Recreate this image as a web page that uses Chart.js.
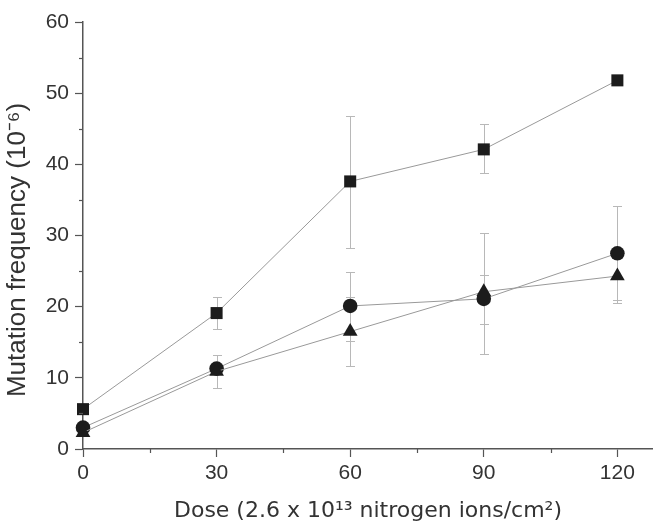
<!DOCTYPE html>
<html>
<head>
<meta charset="utf-8">
<script src="https://cdn.jsdelivr.net/npm/chart.js@4.4.0/dist/chart.umd.min.js"></script>
<style>
  html, body { margin: 0; padding: 0; background: #fff; }
  #wrap { width: 653px; height: 524px; position: relative; }
</style>
</head>
<body>
<div id="wrap"><canvas id="c" width="653" height="524"></canvas></div>
<script>
// ---- data ----
const doses = [0, 30, 60, 90, 120];

const squareMean = [5.6, 19.1, 37.6, 42.1, 51.8];
const squareLow  = [null, 16.8, 28.3, 38.8, null];
const squareHigh = [null, 21.4, 46.8, 45.7, null];

const circleMean = [3.0, 11.3, 20.1, 21.1, 27.5];
const circleLow  = [null, null, 15.2, 13.3, 20.9];
const circleHigh = [null, 13.2, 24.9, 30.4, 34.2];

const triangleMean = [2.3, 10.9, 16.5, 22.1, 24.3];
const triangleLow  = [null, 8.6, 11.6, 17.6, 20.5];
const triangleHigh = [null, null, 21.3, 24.5, null];

const xTitle = 'Dose (2.6 x 10\u00B9\u00B3 nitrogen ions/cm\u00B2)';
const yTitle = 'Mutation frequency (10\u207B\u2076)';

// ---- chart ----
function pts(means) { return doses.map((d, i) => ({ x: d, y: means[i] })); }

const errs = [
  { low: squareLow, high: squareHigh, mean: squareMean },
  { low: circleLow, high: circleHigh, mean: circleMean },
  { low: triangleLow, high: triangleHigh, mean: triangleMean }
];

const errorBarPlugin = {
  id: 'errorBars',
  beforeDatasetsDraw(chart) {
    const ctx = chart.ctx, xs = chart.scales.x, ys = chart.scales.y;
    ctx.save();
    ctx.strokeStyle = '#b8b8b8';
    ctx.lineWidth = 1;
    errs.forEach(e => {
      doses.forEach((d, i) => {
        const px = Math.round(xs.getPixelForValue(d)) + 0.5;
        const pm = ys.getPixelForValue(e.mean[i]);
        [e.low[i], e.high[i]].forEach(v => {
          if (v === null) return;
          const pv = Math.round(ys.getPixelForValue(v)) + 0.5;
          ctx.beginPath();
          ctx.moveTo(px, pm); ctx.lineTo(px, pv);
          ctx.moveTo(px - 4.5, pv); ctx.lineTo(px + 4.5, pv);
          ctx.stroke();
        });
      });
    });
    ctx.restore();
  },
  afterDraw(chart) {
    // minor ticks (shorter than major ones)
    const ctx = chart.ctx, xs = chart.scales.x, ys = chart.scales.y;
    ctx.save();
    ctx.strokeStyle = '#555';
    ctx.lineWidth = 1.2;
    xs.ticks.forEach(t => {
      if (t.value % 30 !== 0) {
        const px = Math.round(xs.getPixelForValue(t.value)) + 0.5;
        ctx.beginPath(); ctx.moveTo(px, xs.top); ctx.lineTo(px, xs.top + 4); ctx.stroke();
      }
    });
    ys.ticks.forEach(t => {
      if (t.value % 10 !== 0) {
        const py = Math.round(ys.getPixelForValue(t.value)) + 0.5;
        ctx.beginPath(); ctx.moveTo(ys.right, py); ctx.lineTo(ys.right - 4, py); ctx.stroke();
      }
    });
    ctx.restore();
  }
};

const lineColor = '#999999';
const markColor = '#1c1c1c';

new Chart(document.getElementById('c'), {
  type: 'line',
  data: {
    datasets: [
      { label: 'square', data: pts(squareMean), pointStyle: 'rect', pointRadius: 8.5, clip: false, order: 2,
        borderColor: lineColor, borderWidth: 1, backgroundColor: markColor,
        pointBackgroundColor: markColor, pointBorderColor: markColor, pointBorderWidth: 0 },
      { label: 'circle', data: pts(circleMean), pointStyle: 'circle', pointRadius: 7.3, clip: false, order: 1,
        borderColor: lineColor, borderWidth: 1, backgroundColor: markColor,
        pointBackgroundColor: markColor, pointBorderColor: markColor, pointBorderWidth: 0 },
      { label: 'triangle', data: pts(triangleMean), pointStyle: 'triangle', pointRadius: 8.5, clip: false, order: 0,
        borderColor: lineColor, borderWidth: 1, backgroundColor: markColor,
        pointBackgroundColor: markColor, pointBorderColor: markColor, pointBorderWidth: 0 }
    ]
  },
  options: {
    responsive: false,
    animation: false,
    events: [],
    layout: { autoPadding: false, padding: { top: 22, right: 0, bottom: 0, left: 0 } },
    plugins: { legend: { display: false }, tooltip: { enabled: false } },
    scales: {
      x: {
        type: 'linear', min: 0, max: 128,
        afterFit(s) { s.height = 75; s.paddingRight = 0; s.paddingLeft = 0; },
        border: { display: true, color: '#555', width: 1.5 },
        grid: { display: true, drawOnChartArea: false, drawTicks: true, tickLength: 8,
                tickColor: c => (c.tick && c.tick.value % 30 === 0) ? '#555' : 'rgba(0,0,0,0)', tickWidth: 1.2 },
        ticks: { stepSize: 15, autoSkip: false, includeBounds: false, maxRotation: 0,
                 color: '#333', padding: 4,
                 font: { family: "'Liberation Sans', Arial, sans-serif", size: 21 },
                 callback: v => (v % 30 === 0 ? String(v) : '') },
        title: { display: true, text: xTitle, color: '#333',
                 font: { family: "'DejaVu Sans', Verdana, sans-serif", size: 22 },
                 padding: { top: 0, bottom: 0 } }
      },
      y: {
        type: 'linear', min: 0, max: 60,
        afterFit(s) { s.width = 83; s.paddingTop = 0; s.paddingBottom = 0; },
        border: { display: true, color: '#555', width: 1.5 },
        grid: { display: true, drawOnChartArea: false, drawTicks: true, tickLength: 8,
                tickColor: c => (c.tick && c.tick.value % 10 === 0) ? '#555' : 'rgba(0,0,0,0)', tickWidth: 1.2 },
        ticks: { stepSize: 5, autoSkip: false, color: '#333', padding: 6,
                 font: { family: "'Liberation Sans', Arial, sans-serif", size: 21 },
                 callback: v => (v % 10 === 0 ? String(v) : '') },
        title: { display: true, text: yTitle + '    ', color: '#333',
                 font: { family: "'Liberation Sans', Arial, sans-serif", size: 26 },
                 padding: { top: 2, bottom: 0 } }
      }
    }
  },
  plugins: [errorBarPlugin]
});
</script>
</body>
</html>
